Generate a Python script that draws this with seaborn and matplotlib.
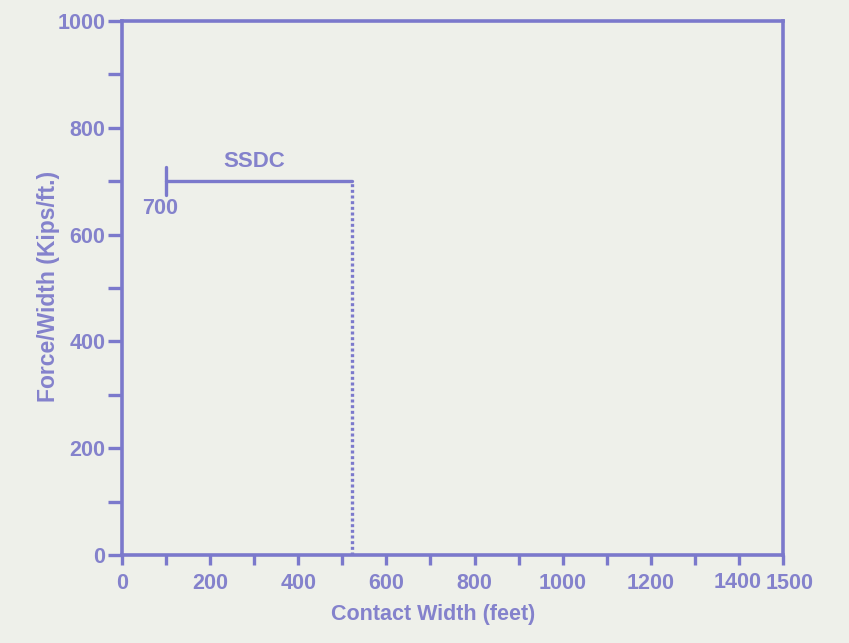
import matplotlib
matplotlib.use("Agg")
import matplotlib.pyplot as plt
import matplotlib.transforms as mtransforms
import seaborn as sns
import pandas as pd
from matplotlib.ticker import MultipleLocator

# Data
ssdc_x = [100, 522]
ssdc_y = [700, 700]
bracket_x = [100, 100]
bracket_y = [674, 726]
drop_x = [522, 522]
drop_y = [0, 700]
x_ticks = [0, 200, 400, 600, 800, 1000, 1200, 1400, 1500]
x_labels = ["0", "200", "400", "600", "800", "1000", "1200", "1400", "1500"]
y_ticks = [0, 200, 400, 600, 800, 1000]
y_labels = ["0", "200", "400", "600", "800", "1000"]

LINE = "#7b79cc"
TEXT = "#8482cc"
BG = "#eef0ea"

sns.set_theme(style="white")
plt.rcParams["font.family"] = ["Liberation Sans", "DejaVu Sans"]
plt.rcParams["font.weight"] = "bold"

fig = plt.figure(figsize=(8.49, 6.43), dpi=100, facecolor=BG)
ax = fig.add_axes([0.1437, 0.1369, 0.9223 - 0.1437, 0.9673 - 0.1369])
ax.set_facecolor(BG)

df_line = pd.DataFrame({"x": ssdc_x, "y": ssdc_y})
df_br = pd.DataFrame({"x": bracket_x, "y": bracket_y})
df_drop = pd.DataFrame({"x": drop_x, "y": drop_y})
kw = dict(ax=ax, color=LINE, sort=False, estimator=None, errorbar=None)
sns.lineplot(data=df_line, x="x", y="y", lw=2.4, **kw)
sns.lineplot(data=df_br, x="x", y="y", lw=2.4, **kw)
sns.lineplot(data=df_drop, x="x", y="y", lw=2.4, linestyle=(0, (0.9, 0.8)), **kw)

ax.text(300, 718, "SSDC", color=TEXT, fontsize=16, fontweight="bold",
        ha="center", va="bottom")
ax.text(86, 668, "700", color=TEXT, fontsize=15.5, fontweight="bold",
        ha="center", va="top")

ax.set_xlim(0, 1500)
ax.set_ylim(0, 1000)
ax.set_xticks(x_ticks)
ax.set_xticklabels(x_labels)
ax.set_yticks(y_ticks)
ax.set_yticklabels(y_labels)
ax.xaxis.set_minor_locator(MultipleLocator(100))
ax.yaxis.set_minor_locator(MultipleLocator(100))
ax.tick_params(axis="both", which="both", direction="out", color=LINE,
               width=2.4, labelcolor=TEXT, labelsize=15.5)
ax.tick_params(axis="x", which="both", length=7, pad=6)
ax.tick_params(axis="y", which="both", length=10, pad=2)
ax.tick_params(bottom=True, left=True, which="both")
for lab in ax.get_xticklabels() + ax.get_yticklabels():
    lab.set_fontweight("bold")

# nudge the crowded end labels apart, as in the original print
xt = ax.get_xticklabels()
xt[-1].set_transform(xt[-1].get_transform() +
                     mtransforms.ScaledTranslation(7 / 100, 0, fig.dpi_scale_trans))
xt[-2].set_transform(xt[-2].get_transform() +
                     mtransforms.ScaledTranslation(-1 / 100, 1.5 / 100, fig.dpi_scale_trans))

for s in ax.spines.values():
    s.set_color(LINE)
    s.set_linewidth(2.6)
    s.set_visible(True)

ax.set_xlabel("Contact Width (feet)", color=TEXT, fontsize=15.5,
              fontweight="bold")
ax.set_ylabel("Force/Width (Kips/ft.)", color=TEXT, fontsize=16.5,
              fontweight="bold")
ax.xaxis.set_label_coords(0.47, -0.092)
ax.yaxis.set_label_coords(-0.094, 0.503)

fig.savefig("out.png", dpi=100, facecolor=BG)
